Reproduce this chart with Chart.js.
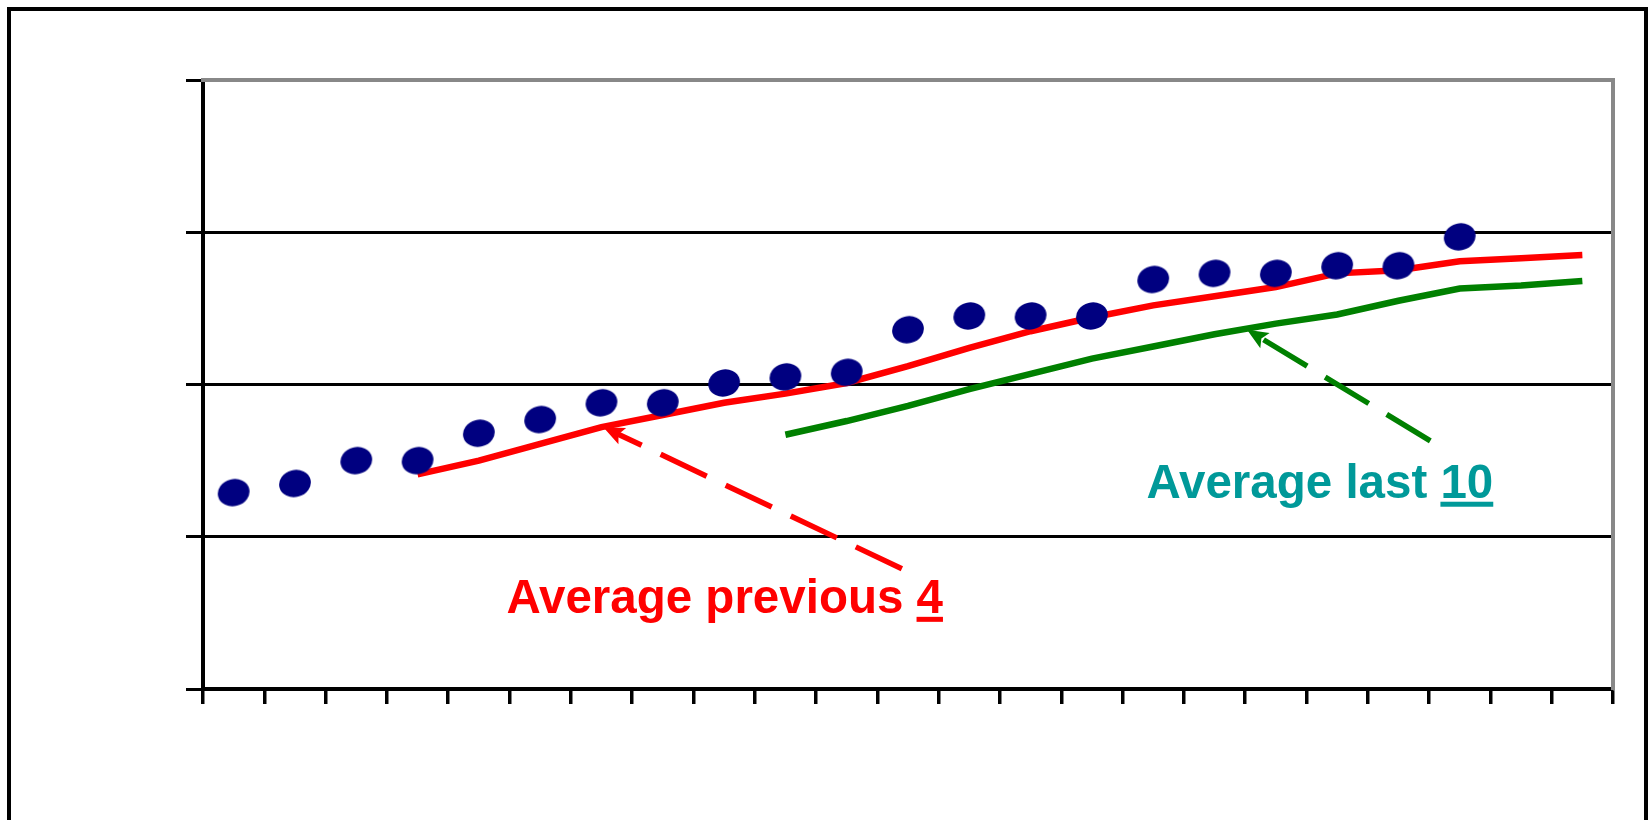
<!DOCTYPE html>
<html>
<head>
<meta charset="utf-8">
<script src="https://cdn.jsdelivr.net/npm/chart.js@4"></script>
<style>
  html, body { margin: 0; padding: 0; background: #fff; }
  .wrap { position: relative; width: 1650px; height: 820px; overflow: hidden; }
  .frame { position: absolute; left: 7px; top: 7px; right: 2px; height: 900px;
           border: 4px solid #000; border-bottom: none; box-sizing: border-box; }
</style>
</head>
<body>
<div class="wrap">
  <canvas id="chart"></canvas>
  <div class="frame"></div>
</div>
<script>
// Categories (no labels shown on the axis)
const labels = ['1','2','3','4','5','6','7','8','9','10','11','12','13','14','15','16','17','18','19','20','21','22','23']

// Observed values (dots)
const values = [12.9, 13.5, 15.0, 15.0, 16.8, 17.7, 18.8, 18.8, 20.1, 20.5, 20.8, 23.6,
                24.5, 24.5, 24.5, 26.9, 27.3, 27.3, 27.8, 27.8, 29.7, null, null]

// Average previous 4 (red)
const avgPrev4 = [null, null, null, 14.1, 15.0, 16.1, 17.2, 18.0, 18.8, 19.4, 20.1, 21.2,
                  22.4, 23.5, 24.4, 25.2, 25.8, 26.4, 27.3, 27.5, 28.1, 28.3, 28.5]

// Average last 10 (green)
const avgLast10 = [null, null, null, null, null, null, null, null, null, 16.7, 17.6, 18.6,
                   19.7, 20.7, 21.7, 22.5, 23.3, 24.0, 24.6, 25.5, 26.3, 26.5, 26.8]

// Y ticks (unlabelled gridlines)
const yTicks = [0, 10, 20, 30, 40]

// Callouts: arrow from tail to tip, text with underlined number
const callouts = [
    { text: 'Average previous ', num: '4', color: '#ff0000', arrow: '#ff0000',
      tail: [10.9, 7.9], tip: [6.03, 17.2], at: [4.45, 4.97] },
    { text: 'Average last ', num: '10', color: '#009999', arrow: '#008000',
      tail: [19.52, 16.3], tip: [16.53, 23.6], at: [14.89, 12.53] }
]

// Blob-shaped marker for the dots
const blob = (() => {
    const c = document.createElement('canvas')
    c.width = 36
    c.height = 32
    const g = c.getContext('2d')
    g.fillStyle = '#000080'
    g.beginPath()
    g.ellipse(18, 16, 16, 13.5, -0.25, 0, Math.PI * 2)
    g.fill()
    return c
})()

// Draws dashed arrows and texts
const calloutPlugin = {
    id: 'callouts',
    afterDatasetsDraw(chart) {
        const ctx = chart.ctx
        const x = chart.scales.x, y = chart.scales.y
        const px = p => [x.getPixelForValue(p[0]), y.getPixelForValue(p[1])]
        callouts.forEach(c => {
            const [tx, ty] = px(c.tail)
            const [hx, hy] = px(c.tip)
            const ang = Math.atan2(hy - ty, hx - tx)
            const head = 21
            ctx.save()
            ctx.strokeStyle = c.arrow
            ctx.fillStyle = c.arrow
            ctx.lineWidth = 5.5
            ctx.setLineDash([51, 21])
            ctx.beginPath()
            ctx.moveTo(tx, ty)
            ctx.lineTo(hx - Math.cos(ang) * head * 0.7, hy - Math.sin(ang) * head * 0.7)
            ctx.stroke()
            ctx.setLineDash([])
            // arrow head
            ctx.translate(hx, hy)
            ctx.rotate(ang)
            ctx.beginPath()
            ctx.moveTo(0, 0)
            ctx.lineTo(-head, -9)
            ctx.lineTo(-head * 0.8, 0)
            ctx.lineTo(-head, 9)
            ctx.closePath()
            ctx.fill()
            ctx.restore()

            const [lx, ly] = px(c.at)
            ctx.save()
            ctx.font = 'bold 47.5px "Liberation Sans", Arial, sans-serif'
            ctx.fillStyle = c.color
            ctx.textBaseline = 'alphabetic'
            ctx.fillText(c.text + c.num, lx, ly)
            const w0 = ctx.measureText(c.text).width
            const w1 = ctx.measureText(c.num).width
            ctx.fillRect(lx + w0, ly + 3.5, w1, 5)
            ctx.restore()
        })
    }
}

new Chart(document.getElementById('chart'), {
    type: 'line',
    data: {
        labels: labels,
        datasets: [
            {
                label: 'Values',
                data: values,
                showLine: false,
                pointStyle: blob,
                pointRadius: 16,
                order: 0
            },
            {
                label: 'Average previous 4',
                data: avgPrev4,
                borderColor: '#ff0000',
                borderWidth: 6.5,
                pointRadius: 0,
                tension: 0,
                order: 1
            },
            {
                label: 'Average last 10',
                data: avgLast10,
                borderColor: '#008000',
                borderWidth: 6.5,
                pointRadius: 0,
                tension: 0,
                order: 2
            }
        ]
    },
    options: {
        responsive: true,
        maintainAspectRatio: false,
        animation: false,
        events: [],
        layout: { padding: { left: 186, right: 37, top: 80, bottom: 116 } },
        plugins: { legend: { display: false }, tooltip: { enabled: false } },
        scales: {
            x: {
                offset: true,
                grid: { offset: true, drawOnChartArea: false, drawTicks: true,
                        tickLength: 15, color: '#000', lineWidth: 3.5 },
                border: { color: '#000', width: 3.5 },
                ticks: { display: false }
            },
            y: {
                min: yTicks[0],
                max: yTicks[yTicks.length - 1],
                afterBuildTicks: s => { s.ticks = yTicks.map(v => ({ value: v })) },
                grid: { color: '#000', lineWidth: 3, tickLength: 17 },
                border: { color: '#000', width: 4 },
                ticks: { display: false }
            },
            x2: {
                type: 'category',
                position: 'top',
                grid: { display: false, drawTicks: false },
                border: { color: '#888', width: 4 },
                ticks: { display: false }
            },
            y2: {
                type: 'linear',
                position: 'right',
                grid: { display: false, drawTicks: false },
                border: { color: '#888', width: 4 },
                ticks: { display: false }
            }
        }
    },
    plugins: [calloutPlugin]
})
</script>
</body>
</html>
